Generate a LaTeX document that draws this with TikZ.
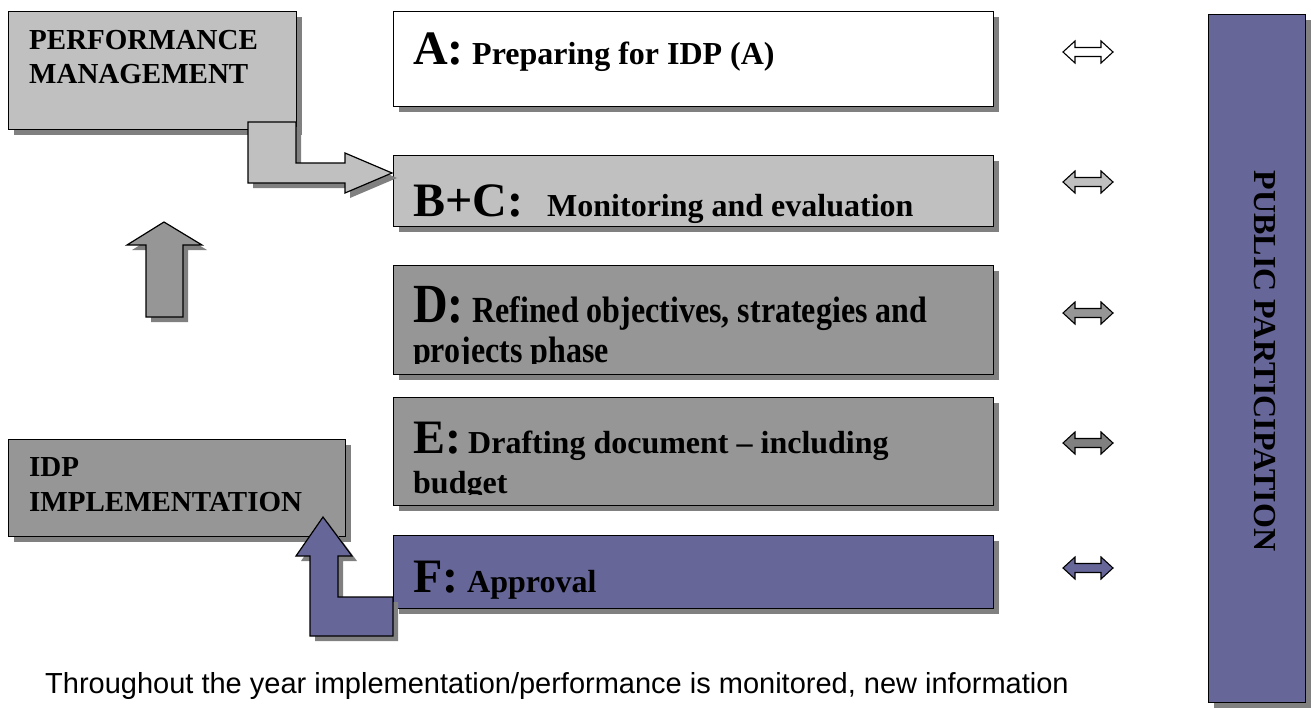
\documentclass[tikz,border=0pt]{standalone}
\usepackage{fontspec}
\setmainfont{Liberation Serif}
\newfontfamily\arialf{Liberation Sans}
\usetikzlibrary{shadows}
\definecolor{lgray}{HTML}{C0C0C0}
\definecolor{mgray}{HTML}{969696}
\definecolor{dgray}{HTML}{808080}
\definecolor{purp}{HTML}{666699}
\definecolor{shad}{HTML}{808080}
\newcommand\bigf{\bfseries\fontsize{48}{48}\selectfont}
\newcommand\smf{\bfseries\fontsize{32}{32}\selectfont}
\newcommand\lblf{\bfseries\fontsize{29}{29}\selectfont}
\newcommand\tallD[1]{\scalebox{1}[1.15]{#1}}
\newcommand\dblarr[2]{%
  \draw[line width=1.1pt,fill=#2] (1063,#1) -- (1075,#1-11) -- (1075,#1-4.5) -- (1101,#1-4.5) -- (1101,#1-11) -- (1113,#1) -- (1101,#1+11) -- (1101,#1+4.5) -- (1075,#1+4.5) -- (1075,#1+11) -- cycle;}
\begin{document}
\begin{tikzpicture}[x=1pt,y=-1pt,
  shd/.style={drop shadow={shadow xshift=5pt,shadow yshift=-5pt,fill=shad,opacity=1}},
  box/.style={draw=black,line width=1.2pt,shd,inner sep=0pt,anchor=north west},
  blockarrow/.style={draw=black,line width=1.2pt,shd,line join=miter},
  txt/.style={anchor=base west,inner sep=0pt}]
\useasboundingbox (0,0) rectangle (1311,709);
\fill[white] (0,0) rectangle (1311,709);

% left boxes
\node[box,fill=lgray,minimum width=288pt,minimum height=118pt] (pm) at (8,11) {};
\node[txt,font=\lblf] (pm1) at (29,49) {PERFORMANCE};
\node[txt,font=\lblf] (pm2) at (29,84) {MANAGEMENT};

\node[box,fill=mgray,minimum width=337pt,minimum height=97pt] (idp) at (8,439) {};
\node[txt,font=\lblf] (idp1) at (29,476) {IDP};
\node[txt,font=\lblf] (idp2) at (29,511) {IMPLEMENTATION};

% phase boxes
\node[box,fill=white,minimum width=600pt,minimum height=95pt] (a) at (393,11) {};
\node[txt,font=\bigf] (al) at (413,65) {A:};
\node[txt,font=\smf] (at) at (472,65) {Preparing for IDP (A)};

\node[box,fill=lgray,minimum width=600pt,minimum height=71pt] (bc) at (393,155) {};
\node[txt,font=\bigf] (bcl) at (413,216) {B+C:};
\node[txt,font=\smf] (bct) at (547,216) {Monitoring and evaluation};

\node[box,fill=mgray,minimum width=600pt,minimum height=109pt] (d) at (393,265) {};
\node[txt,font=\bigf] (dl) at (413,322) {\tallD{D:}};
\node[txt,font=\smf] (dt) at (472,322) {\tallD{Refined objectives, strategies and}};
\begin{scope}
\clip (393,265) rectangle (993,363);
\node[txt,font=\smf] (dt2) at (413,362) {\tallD{projects phase}};
\end{scope}

\node[box,fill=mgray,minimum width=600pt,minimum height=108pt] (e) at (393,397) {};
\node[txt,font=\bigf] (el) at (413,453) {E:};
\node[txt,font=\smf] (et) at (468,453) {Drafting document -- including};
\begin{scope}
\clip (393,397) rectangle (993,494);
\node[txt,font=\smf] (et2) at (413,493) {budget};
\end{scope}

\node[box,fill=purp,minimum width=600pt,minimum height=73pt] (f) at (393,535) {};
\node[txt,font=\bigf] (fl) at (413,592) {F:};
\node[txt,font=\smf] (ft) at (467,592) {Approval};

% block arrows
\draw[blockarrow,fill=lgray] (248,122) -- (248,183) -- (345,183) -- (345,193) -- (392,173) -- (345,153) -- (345,163) -- (296,163) -- (296,122) -- cycle;
\draw[blockarrow,fill=mgray] (164,222) -- (202,245) -- (183,245) -- (183,317) -- (146,317) -- (146,245) -- (127,245) -- cycle;
\draw[blockarrow,fill=purp] (323,517) -- (352,556) -- (338,556) -- (338,597) -- (393,597) -- (393,636) -- (310,636) -- (310,556) -- (296,556) -- cycle;

% double arrows
\dblarr{52}{white}
\dblarr{182}{lgray}
\dblarr{313}{mgray}
\dblarr{443}{dgray}
\dblarr{568}{purp}

% public participation
\node[box,fill=purp,minimum width=97pt,minimum height=688pt] (pp) at (1208,14) {};
\node[rotate=-90,font=\smf,inner sep=0pt] (ppt) at (1265,361) {PUBLIC PARTICIPATION};

% note
\node[txt,font=\arialf\fontsize{29}{29}\selectfont] (note) at (45,693) {Throughout the year implementation/performance is monitored, new information};
\end{tikzpicture}
\end{document}
